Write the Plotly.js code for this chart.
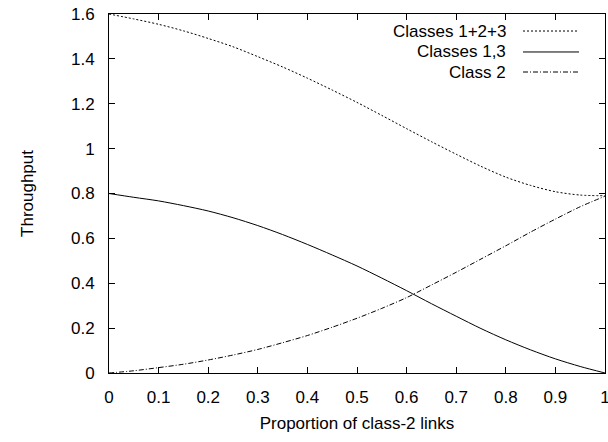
<!DOCTYPE html>
<html>
<head>
<meta charset="utf-8">
<script src="https://cdn.plot.ly/plotly-3.0.1.min.js"></script>
<style>html,body{margin:0;padding:0;background:#fff;}#chart{width:608px;height:442px;}</style>
</head>
<body>
<div id="chart"></div>
<script>
const xs = [0, 0.05, 0.1, 0.15, 0.2, 0.25, 0.3, 0.35, 0.4, 0.45, 0.5, 0.55, 0.6, 0.65, 0.7, 0.75, 0.8, 0.85, 0.9, 0.95, 1.0];
const total = [1.6, 1.578, 1.554, 1.525, 1.491, 1.454, 1.410, 1.364, 1.314, 1.261, 1.206, 1.148, 1.089, 1.031, 0.975, 0.921, 0.873, 0.836, 0.808, 0.793, 0.790];
const classes13 = [0.8, 0.783, 0.767, 0.746, 0.722, 0.692, 0.657, 0.617, 0.573, 0.526, 0.477, 0.423, 0.367, 0.309, 0.253, 0.198, 0.148, 0.103, 0.063, 0.029, 0.0];
const class2 = [0.0, 0.010, 0.024, 0.039, 0.058, 0.080, 0.105, 0.135, 0.167, 0.204, 0.244, 0.288, 0.336, 0.392, 0.449, 0.508, 0.567, 0.628, 0.686, 0.741, 0.788];
const names = ["Classes 1+2+3", "Classes 1,3", "Class 2"];
const xTicks = [0, 0.1, 0.2, 0.3, 0.4, 0.5, 0.6, 0.7, 0.8, 0.9, 1];
const yTicks = [0, 0.2, 0.4, 0.6, 0.8, 1, 1.2, 1.4, 1.6];

const FONT = "Liberation Sans, Arial, Helvetica, sans-serif";
const FS = 17;
const dashes = ["2px,2px", "solid", "5px,2px,1px,2px"];
const series = [total, classes13, class2];

const traces = series.map((ys, i) => ({
  x: xs, y: ys, name: names[i], type: "scatter", mode: "lines",
  line: {color: "#000", width: 1, dash: dashes[i], shape: "spline", smoothing: 0.8},
  showlegend: false, hoverinfo: "skip"
}));

// legend (text on left, sample on right, gnuplot-style)
const legY = [0.9526, 0.8942, 0.8384];
const annotations = names.map((n, i) => ({
  xref: "paper", yref: "paper", x: 0.8044, y: legY[i], xanchor: "right", yanchor: "middle",
  text: n, showarrow: false, font: {family: FONT, size: FS, color: "#000"}
}));
const shapes = names.map((n, i) => ({
  type: "line", xref: "paper", yref: "paper", x0: 0.8347, x1: 0.9476, y0: legY[i], y1: legY[i],
  line: {color: "#000", width: 1, dash: dashes[i]}
}));

const axisCommon = {
  showgrid: false, zeroline: false, showline: true, mirror: "ticks",
  linecolor: "#000", linewidth: 1, ticks: "inside", ticklen: 6, tickwidth: 1, tickcolor: "#000",
  tickfont: {family: FONT, size: FS, color: "#000"}, ticklabeloverflow: "allow"
};

const layout = {
  width: 608, height: 442,
  margin: {l: 109, r: 3, t: 14, b: 69},
  paper_bgcolor: "#fff", plot_bgcolor: "#fff",
  font: {family: FONT, size: FS, color: "#000"},
  xaxis: Object.assign({}, axisCommon, {
    range: [0, 1], tickvals: xTicks, ticktext: xTicks.map(String), ticklabelstandoff: 9,
    title: {text: "Proportion of class-2 links", font: {family: FONT, size: FS, color: "#000"}, standoff: 10}
  }),
  yaxis: Object.assign({}, axisCommon, {
    range: [0, 1.6], tickvals: yTicks, ticktext: yTicks.map(String), ticklabelstandoff: 10,
    title: {text: "Throughput", font: {family: FONT, size: FS, color: "#000"}, standoff: 33}
  }),
  showlegend: false,
  annotations: annotations,
  shapes: shapes
};

Plotly.newPlot("chart", traces, layout, {staticPlot: true, displayModeBar: false});
</script>
</body>
</html>
